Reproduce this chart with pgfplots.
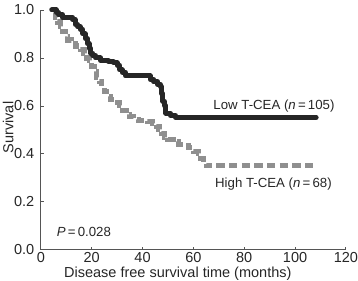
\documentclass[border=0pt]{standalone}
\usepackage{pgfplots}
\pgfplotsset{compat=1.18}
\usepackage{fontspec}
\setmainfont{Liberation Sans}
\definecolor{axgray}{HTML}{555555}
\definecolor{lowc}{HTML}{262626}
\definecolor{highc}{HTML}{8F8F8F}
\begin{document}
\fontsize{10.2pt}{12pt}\selectfont
\begin{tikzpicture}
\useasboundingbox (-28.7pt,-21.7pt) rectangle (223pt,175.7pt);
\begin{axis}[
  scale only axis,
  width=214.5pt, height=168.7pt,
  xmin=0, xmax=120, ymin=0, ymax=1,
  axis lines*=left,
  axis line style={axgray, line width=0.6pt},
  tick style={axgray, line width=0.6pt},
  tick align=inside,
  major tick length=2.2pt,
  xtick={0,20,40,60,80,100,120},
  ytick={0,0.2,0.4,0.6,0.8,1.0},
  yticklabel style={/pgf/number format/fixed, /pgf/number format/fixed zerofill, /pgf/number format/precision=1, xshift=-1pt},
  xticklabel style={yshift=2pt},
  /pgf/number format/assume math mode=true,
  ticklabel style={text=black!85},
  xlabel={Disease free survival time (months)},
  ylabel={Survival},
  xlabel style={at={([yshift=-16.5pt]rel axis cs:0.449,0)}, anchor=center, text=black!85},
  ylabel style={at={([xshift=-23pt]rel axis cs:0,0.51)}, anchor=center, text=black!85},
  clip=false,
]
\addplot[const plot, highc, line width=3.6pt, dash pattern=on 5.9pt off 3pt] coordinates {
(5.0,0.99) (5.8,0.97) (6.6,0.95) (7.6,0.93) (8.6,0.91) (9.6,0.89) (10.6,0.875)
(12.0,0.86) (13.5,0.85) (15.5,0.835) (17.0,0.82) (18.0,0.80) (19.0,0.79)
(20.0,0.765) (21.0,0.745) (22.0,0.72) (23.0,0.70) (24.0,0.68) (25.0,0.66)
(26.0,0.64) (27.5,0.625) (29.0,0.615) (31.0,0.60) (32.2,0.58) (33.5,0.565)
(35.0,0.555) (36.5,0.545) (38.5,0.54) (42.0,0.535) (44.0,0.525) (45.5,0.515)
(46.5,0.50) (47.5,0.485) (48.5,0.47) (50.0,0.46) (52.0,0.45) (54.0,0.44)
(56.0,0.435) (58.0,0.425) (60.0,0.41) (62.0,0.40) (63.0,0.38) (64.0,0.36)
(65.0,0.35) (107.0,0.35)
};
\addplot[const plot, lowc, line width=3.5pt, line cap=round, line join=round] coordinates {
(4.3,1.00) (6.0,0.99) (7.0,0.98) (8.5,0.97) (12.5,0.96) (13.5,0.94) (14.5,0.93)
(15.5,0.92) (16.5,0.90) (17.5,0.88) (18.3,0.86) (19.0,0.84) (19.7,0.82)
(20.5,0.81) (21.5,0.80) (23.5,0.79) (26.5,0.785) (28.5,0.78) (30.0,0.77)
(31.0,0.75) (32.0,0.74) (33.3,0.725) (43.0,0.71) (44.5,0.70) (46.0,0.69)
(47.0,0.68) (47.5,0.65) (48.0,0.62) (48.6,0.60) (49.2,0.57) (51.0,0.56)
(53.0,0.552) (108.3,0.552)
};
\node[text=black!85, anchor=center, font=\fontsize{9.3pt}{11pt}\selectfont] at (axis cs:91.7,0.60) {Low T-CEA (\textit{n}\,=\,105)};
\node[text=black!85, anchor=center, font=\fontsize{9.3pt}{11pt}\selectfont] at (axis cs:91.5,0.274) {High T-CEA (\textit{n}\,=\,68)};
\node[text=black!85, anchor=west, inner sep=0pt, font=\fontsize{9.3pt}{11pt}\selectfont] at (axis cs:6.2,0.075) {\textit{P}\,=\,0.028};
\end{axis}
\end{tikzpicture}
\end{document}
